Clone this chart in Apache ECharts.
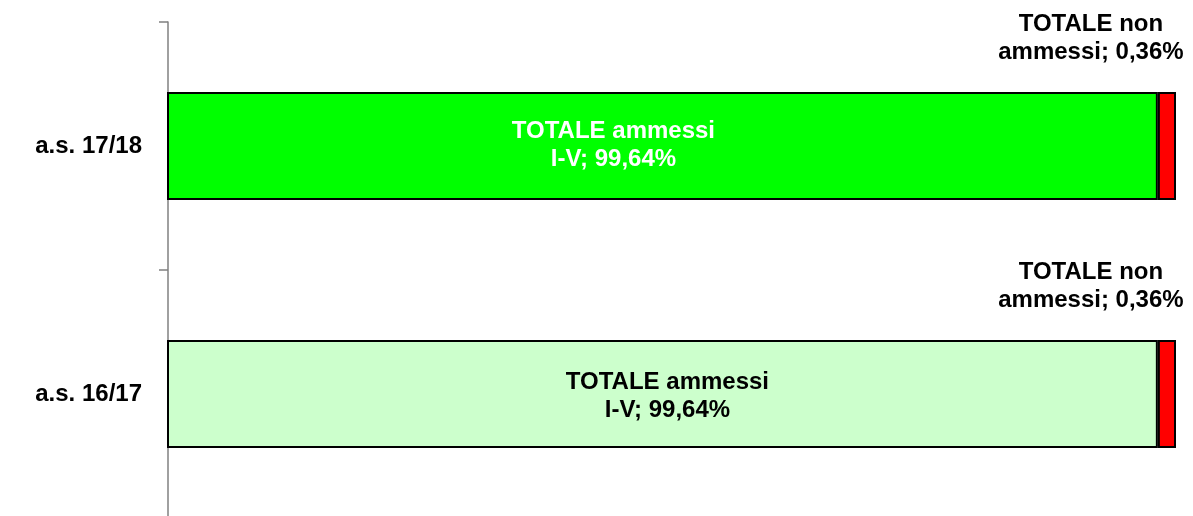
<!DOCTYPE html>
<html>
<head>
<meta charset="utf-8">
<script src="https://cdn.jsdelivr.net/npm/echarts@6/dist/echarts.min.js"></script>
<style>
  html, body { margin: 0; padding: 0; background: #fff; }
  #chart { width: 1193px; height: 516px; }
</style>
</head>
<body>
<div id="chart"></div>
<script>
    // dati
    const categories = ['a.s. 17/18', 'a.s. 16/17'];
    const ammessi = [99.64, 99.64];
    const nonAmmessi = [0.36, 0.36];
    const ammessiColors = ['#00FF00', '#CCFFCC'];
    const ammessiLabelColors = ['#FFFFFF', '#000000'];

    const fmt = v => v.toFixed(2).replace('.', ',') + '%';
    const font = '"Liberation Sans", Arial, sans-serif';

    const myChart = echarts.init(document.getElementById('chart'));

    let option = {
        animation: false,
        grid: { left: 168, right: 17, top: 22, height: 496, outerBoundsMode: 'none', containLabel: false },
        xAxis: {
            type: 'value',
            min: 80,
            max: 100,
            show: false
        },
        yAxis: {
            type: 'category',
            data: categories,
            inverse: true,
            axisLine: { show: true, lineStyle: { color: '#808080', width: 1.5 } },
            axisTick: { show: true, length: 9, lineStyle: { color: '#808080', width: 1.5 } },
            axisLabel: {
                margin: 26,
                color: '#000',
                fontSize: 24,
                fontWeight: 'bold',
                fontFamily: font
            }
        },
        series: [
            {
                name: 'TOTALE ammessi I-V',
                type: 'bar',
                stack: 'tot',
                barWidth: 108,
                data: ammessi.map((v, i) => ({
                    value: v,
                    itemStyle: { color: ammessiColors[i] },
                    label: {
                        color: ammessiLabelColors[i],
                        offset: i === 0 ? [-49, -1] : [5, 2]
                    }
                })),
                itemStyle: { borderColor: '#000', borderWidth: 2 },
                label: {
                    show: true,
                    position: 'inside',
                    fontSize: 24,
                    fontWeight: 'bold',
                    fontFamily: font,
                    lineHeight: 28,
                    align: 'center',
                    formatter: p => 'TOTALE ammessi\nI-V; ' + fmt(p.value)
                }
            },
            {
                name: 'TOTALE non ammessi',
                type: 'bar',
                stack: 'tot',
                barWidth: 108,
                data: nonAmmessi,
                itemStyle: { color: '#FF0000', borderColor: '#000', borderWidth: 2 },
                label: {
                    show: true,
                    position: 'top',
                    distance: 26,
                    offset: [-76, 0],
                    color: '#000',
                    fontSize: 24,
                    fontWeight: 'bold',
                    fontFamily: font,
                    lineHeight: 28,
                    align: 'center',
                    formatter: p => 'TOTALE non\nammessi; ' + fmt(p.value)
                }
            }
        ]
    };

    myChart.setOption(option);
</script>
</body>
</html>
